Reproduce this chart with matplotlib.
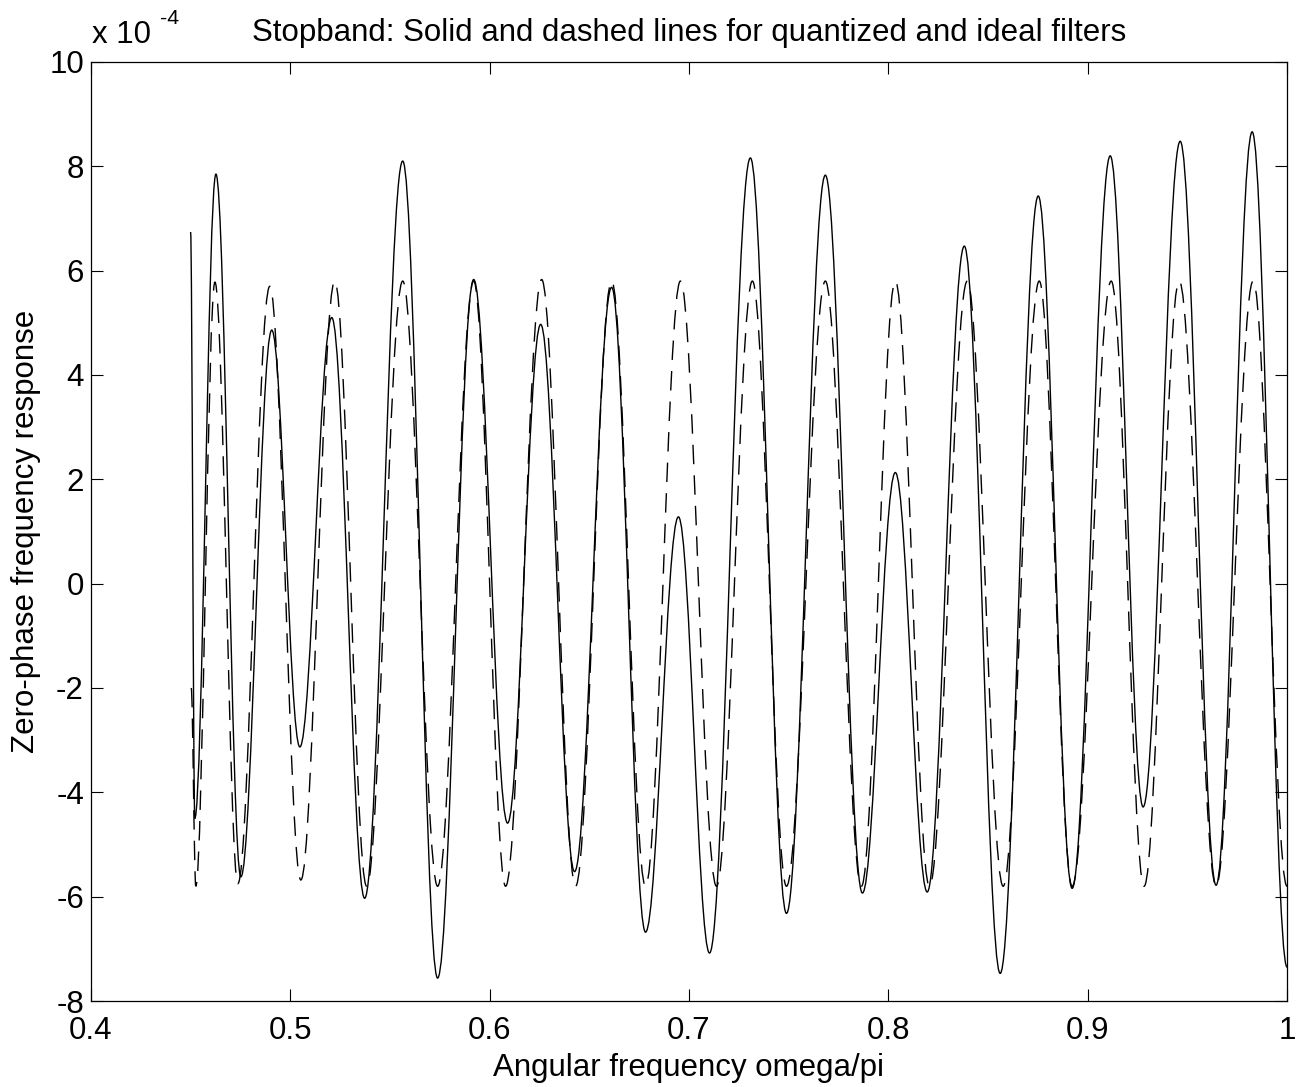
import matplotlib
matplotlib.use("Agg")
import matplotlib.pyplot as plt
from matplotlib.path import Path
from matplotlib.patches import PathPatch

# Extrema (x: omega/pi, y: units of 1e-4)
solid_x = [0.4500, 0.4521, 0.4627, 0.4752, 0.4907, 0.5048, 0.5208, 0.5373,
           0.5564, 0.5739, 0.5920, 0.6090, 0.6256, 0.6426, 0.6612, 0.6782,
           0.6947, 0.7103, 0.7308, 0.7489, 0.7684, 0.7870, 0.8035, 0.8195,
           0.8381, 0.8561, 0.8752, 0.8922, 0.9113, 0.9278, 0.9464, 0.9644,
           0.9825, 1.0000]
solid_y = [6.74, -4.50, 7.85, -5.62, 4.86, -3.13, 5.10, -6.03,
           8.10, -7.56, 5.83, -4.59, 4.97, -5.52, 5.68, -6.68,
           1.28, -7.08, 8.16, -6.32, 7.83, -5.93, 2.13, -5.91,
           6.47, -7.47, 7.43, -5.84, 8.20, -4.28, 8.48, -5.78,
           8.66, -7.35]

dashed_x = [0.4503, 0.4526, 0.4622, 0.4737, 0.4897, 0.5053, 0.5223, 0.5383,
            0.5564, 0.5739, 0.5920, 0.6080, 0.6261, 0.6431, 0.6612, 0.6782,
            0.6957, 0.7138, 0.7318, 0.7489, 0.7684, 0.7865, 0.8035, 0.8206,
            0.8396, 0.8576, 0.8757, 0.8922, 0.9118, 0.9283, 0.9459, 0.9644,
            0.9830, 1.0000]
dashed_y = [-2.0, -5.80, 5.78, -5.75, 5.70, -5.68, 5.80, -5.80,
            5.80, -5.80, 5.80, -5.80, 5.83, -5.80, 5.80, -5.80,
            5.80, -5.80, 5.80, -5.80, 5.80, -5.80, 5.80, -5.80,
            5.80, -5.80, 5.80, -5.80, 5.80, -5.80, 5.80, -5.80,
            5.80, -5.80]

xticks = [0.4, 0.5, 0.6, 0.7, 0.8, 0.9, 1.0]
xtick_labels = ["0.4", "0.5", "0.6", "0.7", "0.8", "0.9", "1"]
yticks = [-8, -6, -4, -2, 0, 2, 4, 6, 8, 10]
ytick_labels = ["-8", "-6", "-4", "-2", "0", "2", "4", "6", "8", "10"]

title = "Stopband: Solid and dashed lines for quantized and ideal filters"
xlabel = "Angular frequency omega/pi"
ylabel = "Zero-phase frequency response"

plt.rcParams['font.family'] = ['Liberation Sans', 'DejaVu Sans']
FS = 22.5

fig = plt.figure(figsize=(12.99, 10.87), dpi=100)
ax = fig.add_axes([0.0700, 0.0791, 0.9208, 0.8639])


def extrema_path(xs, ys, a=0.364):
    verts = [(xs[0], ys[0])]
    codes = [Path.MOVETO]
    for i in range(len(xs) - 1):
        x0, y0, x1, y1 = xs[i], ys[i], xs[i + 1], ys[i + 1]
        dx = x1 - x0
        verts += [(x0 + a * dx, y0), (x1 - a * dx, y1), (x1, y1)]
        codes += [Path.CURVE4] * 3
    return Path(verts, codes)


ax.add_patch(PathPatch(extrema_path(solid_x, solid_y), fill=False,
                       edgecolor='black', lw=1.0, linestyle='-'))
ax.add_patch(PathPatch(extrema_path(dashed_x, dashed_y), fill=False,
                       edgecolor='black', lw=1.0, linestyle=(0, (14, 8))))

ax.set_xlim(0.4, 1.0)
ax.set_ylim(-8, 10)
ax.set_xticks(xticks)
ax.set_xticklabels(xtick_labels)
ax.set_yticks(yticks)
ax.set_yticklabels(ytick_labels)
ax.tick_params(direction='in', length=8.5, width=0.8, labelsize=FS,
               top=True, right=True)
ax.tick_params(axis='x', pad=11)
ax.tick_params(axis='y', pad=5)
for s in ax.spines.values():
    s.set_linewidth(0.9)

ax.set_title(title, fontsize=FS, pad=15)
ax.set_xlabel(xlabel, fontsize=FS, labelpad=5)
ax.set_ylabel(ylabel, fontsize=FS, labelpad=6)

ax.text(0.001, 1.013, "x 10", transform=ax.transAxes, fontsize=FS,
        ha='left', va='bottom')
ax.text(0.058, 1.036, "-4", transform=ax.transAxes, fontsize=FS * 0.68,
        ha='left', va='bottom')

fig.savefig("out.png", dpi=100)
